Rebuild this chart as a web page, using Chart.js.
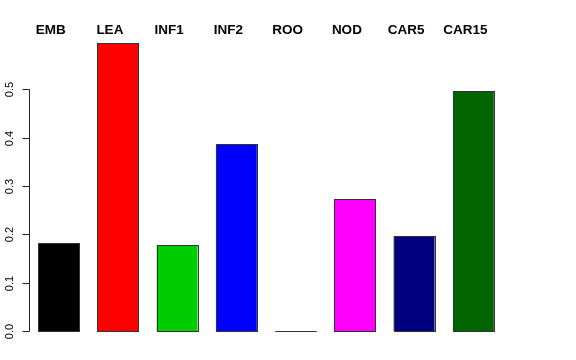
<!DOCTYPE html>
<html><head><meta charset="utf-8">
<script src="https://cdn.jsdelivr.net/npm/chart.js@4"></script>
<style>html,body{margin:0;padding:0;background:#fff}#w{width:576px;height:360px}</style>
</head><body><div id="w"><canvas id="c" width="576" height="360"></canvas></div>
<script>
const categories = ["EMB","LEA","INF1","INF2","ROO","NOD","CAR5","CAR15"];
const values = [0.182, 0.595, 0.178, 0.386, 0.0, 0.273, 0.196, 0.496];
const barColors = ["#000000","#FF0000","#00CD00","#0000FF","#FFFFFF","#FF00FF","#000080","#006400"];
const yTicks = [0.0, 0.1, 0.2, 0.3, 0.4, 0.5];
const yTickLabels = ["0.0","0.1","0.2","0.3","0.4","0.5"];

const rStyle = {
  id: 'rStyle',
  afterDatasetsDraw(chart) {
    const ctx = chart.ctx;
    const meta = chart.getDatasetMeta(0);
    ctx.save();
    ctx.strokeStyle = '#333';
    ctx.lineWidth = 1;
    meta.data.forEach(b => {
      const l = Math.round(b.x - b.width/2) + 0.5;
      const r = Math.round(b.x + b.width/2) + 0.5;
      const t = Math.round(Math.min(b.y, b.base)) + 0.5;
      const bo = Math.round(Math.max(b.y, b.base)) + 0.5;
      ctx.strokeRect(l, t, r - l, bo - t);
    });
    // category labels at top
    ctx.fillStyle = '#000';
    ctx.font = 'bold 13.5px "Liberation Sans", Arial, sans-serif';
    ctx.textAlign = 'center';
    ctx.textBaseline = 'alphabetic';
    const xs = chart.scales.x;
    categories.forEach((c, i) => {
      ctx.fillText(c, xs.getPixelForValue(i) - 8, 34);
    });
    // y axis
    const ys = chart.scales.y;
    const ax = 29.5;
    ctx.strokeStyle = '#222';
    ctx.beginPath();
    ctx.moveTo(ax, Math.round(ys.getPixelForValue(yTicks[0])) + 0.5);
    ctx.lineTo(ax, Math.round(ys.getPixelForValue(yTicks[yTicks.length-1])) + 0.5);
    ctx.stroke();
    ctx.font = '11px "Liberation Sans", Arial, sans-serif';
    ctx.textAlign = 'center';
    ctx.textBaseline = 'middle';
    yTicks.forEach((v, i) => {
      const py = Math.round(ys.getPixelForValue(v)) + 0.5;
      ctx.beginPath();
      ctx.moveTo(ax - 7, py);
      ctx.lineTo(ax, py);
      ctx.stroke();
      ctx.save();
      ctx.translate(9.5, py);
      ctx.rotate(-Math.PI/2);
      ctx.fillText(yTickLabels[i], 0, 0);
      ctx.restore();
    });
    ctx.restore();
  }
};

new Chart(document.getElementById('c'), {
  type: 'bar',
  data: { labels: categories, datasets: [{ data: values, backgroundColor: barColors, borderWidth: 0, barPercentage: 0.69, categoryPercentage: 1.0 }] },
  options: {
    responsive: false, animation: false,
    layout: { padding: { left: 29, right: 73, top: 41, bottom: 29 } },
    plugins: { legend: { display: false }, tooltip: { enabled: false } },
    scales: {
      x: { display: false, offset: true },
      y: { display: false, min: 0, max: 0.6 }
    }
  },
  plugins: [rStyle]
});
</script></body></html>
